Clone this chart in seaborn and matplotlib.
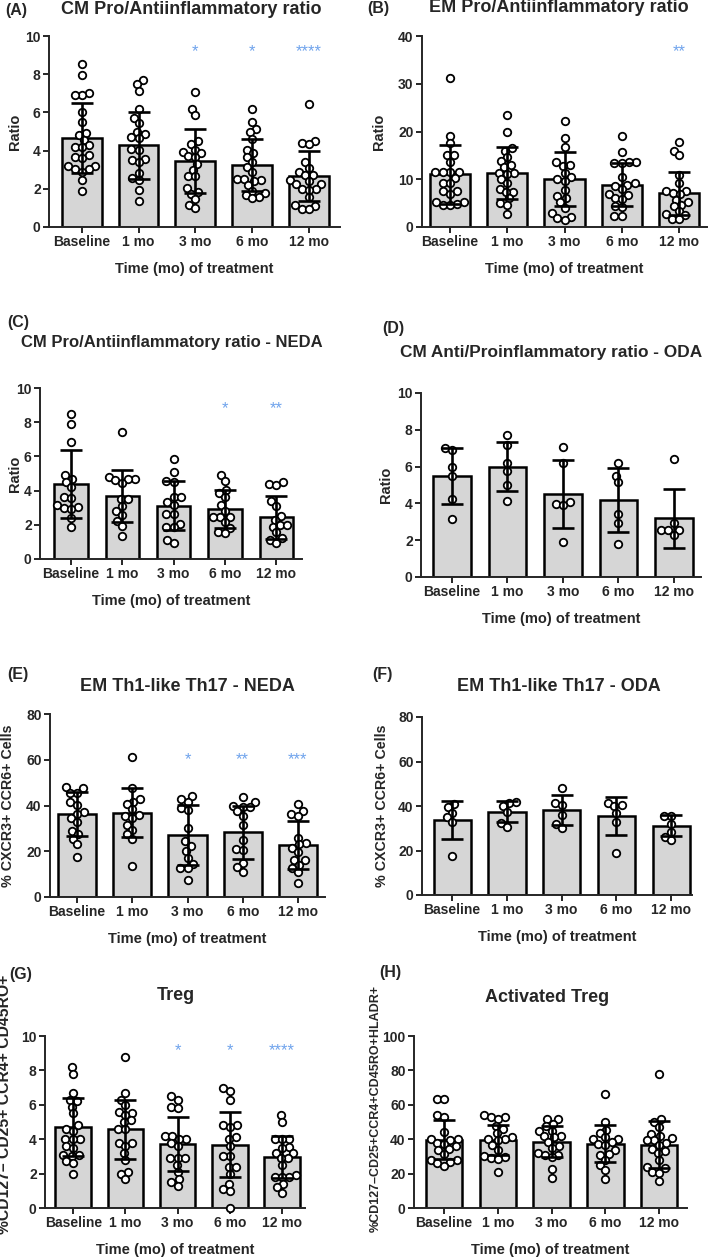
import warnings
import pandas as pd
import matplotlib
matplotlib.use("Agg")
import matplotlib.pyplot as plt
import seaborn as sns

warnings.filterwarnings("ignore")

W, H = 709, 1260
CATS = ["Baseline", "1 mo", "3 mo", "6 mo", "12 mo"]
XLAB = "Time (mo) of treatment"
BAR = "#d6d6d6"
STAR = "#6fa3ec"

# (A) CM Pro/Antiinflammatory ratio
a_points = [
    [8.55, 7.94, 7.03, 6.89, 6.89, 6.02, 5.5, 4.92, 4.8, 4.54, 4.28, 4.19, 4.19, 3.75, 3.66, 3.6, 3.18, 3.18, 3.05, 3.05, 2.9, 2.44, 1.88],
    [7.68, 7.47, 7.12, 6.18, 5.72, 5.45, 5.0, 4.85, 4.72, 4.65, 4.1, 4.05, 3.55, 3.5, 3.4, 2.85, 2.55, 2.45, 1.95, 1.35],
    [7.05, 6.18, 5.85, 4.5, 4.35, 4.05, 3.95, 3.85, 3.7, 3.65, 3.3, 3.0, 2.65, 2.65, 2.05, 1.85, 1.75, 1.45, 1.15, 0.98],
    [6.2, 5.5, 5.15, 4.95, 4.6, 4.05, 3.85, 3.65, 3.4, 3.15, 2.9, 2.5, 2.5, 2.45, 2.4, 2.2, 1.9, 1.8, 1.7, 1.55, 1.5],
    [6.42, 4.5, 4.4, 4.35, 3.4, 3.1, 2.9, 2.7, 2.7, 2.45, 2.4, 2.25, 2.25, 2.0, 2.0, 1.95, 1.55, 1.15, 1.1, 0.95, 0.95],
]
a_means = [4.68, 4.28, 3.46, 3.26, 2.67]
a_sd = [1.83, 1.76, 1.68, 1.35, 1.31]
a_stars = ["", "", "*", "*", "****"]

# (B) EM Pro/Antiinflammatory ratio
b_points = [
    [31.2, 19.0, 17.5, 15.0, 15.0, 13.7, 11.6, 11.6, 11.6, 11.6, 10.3, 9.3, 9.3, 7.6, 7.6, 7.0, 5.2, 5.2, 4.8, 4.6, 4.6],
    [23.4, 19.8, 16.6, 16.0, 14.6, 13.8, 13.0, 12.5, 11.4, 11.4, 11.2, 10.0, 9.2, 8.0, 7.3, 7.3, 6.0, 5.0, 4.6, 2.7],
    [22.3, 18.7, 16.8, 13.6, 12.9, 12.8, 11.4, 10.5, 10.1, 9.7, 7.8, 6.5, 6.0, 5.2, 4.0, 2.9, 2.1, 1.9, 1.5],
    [19.0, 15.7, 13.7, 13.7, 13.4, 13.3, 10.5, 9.2, 8.9, 8.5, 8.0, 7.0, 6.6, 6.0, 5.8, 4.5, 4.2, 2.2, 2.2],
    [17.9, 16.0, 15.0, 10.8, 9.2, 7.6, 7.6, 7.2, 6.9, 5.7, 5.2, 4.7, 4.3, 3.3, 2.7, 2.5, 1.7, 1.7],
]
b_means = [11.0, 11.3, 10.0, 8.9, 7.1]
b_sd = [6.2, 5.4, 5.7, 4.6, 4.5]
b_stars = ["", "", "", "", "**"]

# (C) CM Pro/Antiinflammatory ratio - NEDA
c_points = [
    [8.5, 7.9, 6.85, 4.9, 4.7, 4.5, 4.2, 3.65, 3.55, 3.15, 3.05, 3.0, 2.9, 2.4, 1.9],
    [7.45, 4.8, 4.7, 4.7, 4.6, 4.45, 3.5, 3.5, 3.1, 2.8, 2.55, 2.25, 1.95, 1.35],
    [5.85, 5.1, 4.55, 4.5, 3.65, 3.65, 3.35, 3.15, 2.65, 2.65, 2.05, 1.9, 1.85, 1.1, 0.95],
    [4.9, 4.55, 4.05, 3.85, 3.65, 3.15, 2.8, 2.45, 2.45, 2.45, 2.15, 1.8, 1.55, 1.5],
    [4.5, 4.4, 4.35, 3.4, 3.1, 2.5, 2.3, 2.0, 2.0, 1.9, 1.55, 1.2, 1.1, 0.95],
]
c_means = [4.39, 3.69, 3.12, 2.91, 2.44]
c_sd = [1.97, 1.5, 1.44, 1.1, 1.25]
c_stars = ["", "", "", "*", "**"]

# (D) CM Anti/Proinflammatory ratio - ODA
d_points = [
    [7.0, 6.9, 6.0, 5.5, 4.25, 3.15],
    [7.7, 7.15, 6.2, 5.75, 5.0, 4.15],
    [7.05, 6.2, 4.05, 3.95, 3.9, 1.9],
    [6.2, 5.5, 5.15, 3.4, 2.95, 1.8],
    [6.4, 2.95, 2.55, 2.55, 2.55, 2.3],
]
d_means = [5.49, 6.0, 4.51, 4.18, 3.18]
d_sd = [1.52, 1.35, 1.86, 1.73, 1.6]
d_stars = ["", "", "", "", ""]

# (E) EM Th1-like Th17 - NEDA
e_points = [
    [48.0, 47.5, 45.5, 45.5, 41.5, 40.2, 37.0, 36.5, 34.5, 33.0, 29.0, 27.5, 25.5, 23.0, 17.5],
    [61.0, 47.5, 43.0, 41.5, 40.5, 38.5, 36.0, 35.5, 34.5, 31.5, 29.5, 27.5, 25.5, 13.5],
    [44.0, 43.0, 41.5, 39.0, 38.0, 30.0, 24.5, 22.5, 20.0, 17.0, 14.5, 12.5, 12.5, 7.5],
    [43.5, 41.5, 40.0, 39.5, 39.5, 37.5, 35.5, 31.5, 25.0, 21.0, 20.5, 15.0, 13.0, 11.0],
    [40.5, 37.5, 36.5, 35.5, 26.0, 23.5, 23.0, 21.5, 19.5, 16.0, 16.0, 14.0, 12.5, 11.0, 6.0],
]
e_means = [36.4, 36.9, 27.2, 28.2, 22.8]
e_sd = [9.6, 10.8, 13.2, 11.6, 10.4]
e_stars = ["", "", "*", "**", "***"]

# (F) EM Th1-like Th17 - ODA
f_points = [
    [41.0, 39.5, 37.0, 35.0, 33.0, 17.5],
    [42.0, 41.5, 40.0, 37.5, 32.5, 30.5],
    [48.0, 41.5, 40.5, 36.0, 32.0, 30.0],
    [41.5, 40.5, 40.0, 37.0, 33.0, 19.0],
    [35.5, 35.5, 32.0, 28.5, 26.0, 24.5],
]
f_means = [33.6, 37.4, 38.0, 35.3, 31.1]
f_sd = [8.6, 4.8, 6.75, 8.55, 4.7]
f_stars = ["", "", "", "", ""]

# (G) Treg
g_points = [
    [8.2, 7.8, 6.7, 6.3, 6.2, 5.9, 5.5, 4.8, 4.6, 4.5, 4.0, 4.0, 4.0, 3.6, 3.5, 3.1, 3.1, 3.0, 2.75, 2.6, 2.0],
    [8.8, 6.7, 6.3, 6.0, 5.6, 5.5, 5.4, 5.1, 5.0, 4.6, 4.6, 3.8, 3.8, 3.6, 3.2, 2.8, 2.1, 2.0, 1.7],
    [6.5, 6.3, 5.9, 5.8, 4.2, 4.2, 4.0, 4.0, 3.8, 3.6, 2.9, 2.9, 2.9, 2.5, 2.1, 1.7, 1.5, 1.3],
    [7.0, 6.8, 6.3, 4.85, 4.8, 4.7, 4.1, 4.0, 3.6, 3.0, 3.0, 2.4, 2.4, 2.0, 1.4, 1.1, 1.0, 0.0],
    [5.4, 5.0, 4.0, 4.0, 4.0, 3.55, 3.5, 3.2, 3.2, 2.9, 2.9, 2.5, 1.9, 1.8, 1.8, 1.8, 1.4, 1.2, 0.9],
]
g_means = [4.7, 4.58, 3.73, 3.68, 2.96]
g_sd = [1.69, 1.71, 1.57, 1.9, 1.21]
g_stars = ["", "", "*", "*", "****"]

# (H) Activated Treg
h_points = [
    [63.5, 63.5, 54.0, 53.0, 44.0, 40.0, 40.0, 39.5, 38.0, 37.5, 36.0, 34.5, 33.5, 31.5, 28.0, 28.0, 27.0, 26.0, 24.5],
    [54.0, 53.0, 53.0, 52.0, 47.5, 46.0, 43.5, 41.0, 40.0, 40.0, 39.5, 36.5, 34.0, 30.0, 29.5, 29.0, 28.5, 21.0],
    [51.5, 51.5, 49.0, 47.5, 45.0, 45.0, 42.0, 42.0, 41.0, 38.5, 36.0, 35.0, 32.0, 31.0, 31.0, 29.5, 22.5, 17.5],
    [66.5, 50.0, 45.5, 43.5, 41.0, 40.0, 40.0, 38.5, 37.5, 36.5, 34.0, 31.5, 31.0, 28.0, 25.0, 22.0, 17.0],
    [78.0, 51.5, 50.0, 47.0, 43.0, 42.0, 40.5, 39.5, 39.5, 38.0, 36.5, 34.5, 33.0, 32.0, 28.0, 24.0, 23.0, 21.0, 20.5, 15.5],
]
h_means = [39.7, 39.7, 38.5, 37.3, 36.8]
h_sd = [11.4, 8.8, 9.1, 10.7, 13.5]
h_stars = ["", "", "", "", ""]

sns.set_style("ticks")
plt.rcParams["font.family"] = ["Liberation Sans", "DejaVu Sans"]
plt.rcParams["font.weight"] = "bold"
plt.rcParams["axes.labelweight"] = "bold"

# layout in pixels: box = (left, top, right, bottom)
panels = [
    dict(tag="(A)", tag_xy=(5, 10), title="CM Pro/Antiinflammatory ratio", title_xy=(191, 9), tsize=13,
         box=(49, 36, 340, 227), xlim=(-0.58, 4.55), bw=0.7, top=10, step=2, ylabel="Ratio", ylab_x=15, ysize=10.5,
         pts=a_points, means=a_means, sd=a_sd, stars=a_stars, star_y=9.2),
    dict(tag="(B)", tag_xy=(367, 9), title="EM Pro/Antiinflammatory ratio", title_xy=(559, 8), tsize=13,
         box=(422, 36, 707, 227), xlim=(-0.49, 4.49), bw=0.7, top=40, step=10, ylabel="Ratio", ylab_x=379, ysize=10.5,
         pts=b_points, means=b_means, sd=b_sd, stars=b_stars, star_y=36.8),
    dict(tag="(C)", tag_xy=(7, 323), title="CM Pro/Antiinflammatory ratio - NEDA", title_xy=(172, 343), tsize=12,
         box=(40, 388, 302, 559), xlim=(-0.6, 4.5), bw=0.65, top=10, step=2, ylabel="Ratio", ylab_x=15, ysize=10.5,
         pts=c_points, means=c_means, sd=c_sd, stars=c_stars, star_y=8.8),
    dict(tag="(D)", tag_xy=(382, 328), title="CM Anti/Proinflammatory ratio - ODA", title_xy=(551, 353), tsize=12.4,
         box=(421, 393, 701, 577), xlim=(-0.56, 4.49), bw=0.68, top=10, step=2, ylabel="Ratio", ylab_x=386, ysize=10.5,
         pts=d_points, means=d_means, sd=d_sd, stars=d_stars, star_y=9.2),
    dict(tag="(E)", tag_xy=(7, 675), title="EM Th1-like Th17 - NEDA", title_xy=(187, 687), tsize=13,
         box=(50, 714, 325, 897), xlim=(-0.49, 4.49), bw=0.69, top=80, step=20, ylabel="% CXCR3+ CCR6+ Cells",
         ylab_x=8, ysize=10.3, pts=e_points, means=e_means, sd=e_sd, stars=e_stars, star_y=60.2),
    dict(tag="(F)", tag_xy=(372, 675), title="EM Th1-like Th17 - ODA", title_xy=(559, 687), tsize=13,
         box=(422, 717, 692, 895), xlim=(-0.55, 4.38), bw=0.68, top=80, step=20, ylabel="% CXCR3+ CCR6+ Cells",
         ylab_x=382, ysize=10.3, pts=f_points, means=f_means, sd=f_sd, stars=f_stars, star_y=60),
    dict(tag="(G)", tag_xy=(9, 975), title="Treg", title_xy=(176, 995), tsize=13,
         box=(45, 1036, 305, 1208), xlim=(-0.54, 4.44), bw=0.68, top=10, step=2, ylabel="%CD127\u2013 CD25+ CCR4+ CD45RO+",
         ylab_x=5, ysize=11.3, ylab_y=1104, pts=g_points, means=g_means, sd=g_sd, stars=g_stars, star_y=9.15),
    dict(tag="(H)", tag_xy=(379, 973), title="Activated Treg", title_xy=(547, 997), tsize=13,
         box=(414, 1036, 687, 1208), xlim=(-0.56, 4.52), bw=0.68, top=100, step=20, ylabel="%CD127\u2013CD25+CCR4+CD45RO+HLADR+",
         ylab_x=376, ysize=9.0, ylab_y=1108, pts=h_points, means=h_means, sd=h_sd, stars=h_stars, star_y=92),
]

fig = plt.figure(figsize=(W / 100, H / 100), dpi=100)
swarms = []


def draw_panel(p):
    l, t, r, b = p["box"]
    ax = fig.add_axes([l / W, 1 - b / H, (r - l) / W, (b - t) / H])

    rows = []
    for cat, vals in zip(CATS, p["pts"]):
        for v in vals:
            rows.append({"time": cat, "value": v})
    df = pd.DataFrame(rows)

    sns.barplot(x=CATS, y=p["means"], order=CATS, color=BAR, saturation=1, edgecolor="black",
                linewidth=1.8, width=p["bw"], errorbar=None, ax=ax, zorder=1)
    n_before = len(ax.collections)
    sns.swarmplot(data=df, x="time", y="value", order=CATS, size=3.7, color="white",
                  edgecolor="black", linewidth=1.3, ax=ax, zorder=3, clip_on=False)
    swarms.extend(ax.collections[n_before:])
    ax.errorbar(range(len(CATS)), p["means"], yerr=p["sd"], fmt="none", ecolor="black",
                elinewidth=1.9, capsize=8, capthick=1.9, zorder=4)

    for i, s in enumerate(p["stars"]):
        if s:
            ax.text(i, p["star_y"], s, ha="center", va="center", color=STAR,
                    fontsize=12, fontweight="normal")

    ax.set_xlim(p["xlim"])
    ax.set_ylim(0, p["top"])
    ax.set_yticks(range(0, p["top"] + 1, p["step"]))
    sns.despine(ax=ax)
    for sp in ("left", "bottom"):
        ax.spines[sp].set_linewidth(1.4)
    ax.tick_params(length=4, width=1.4, labelsize=10, pad=2)
    ax.set_xlabel(XLAB, fontsize=10.5, labelpad=9)
    ax.set_ylabel(p["ylabel"], fontsize=p["ysize"], va="center")
    ylab_y = p.get("ylab_y", (t + b) / 2)
    ax.yaxis.set_label_coords((p["ylab_x"] - l) / (r - l), (b - ylab_y) / (b - t))

    tx, ty = p["title_xy"]
    fig.text(tx / W, 1 - ty / H, p["title"], ha="center", va="center",
             fontsize=p["tsize"], fontweight="bold")
    gx, gy = p["tag_xy"]
    fig.text(gx / W, 1 - gy / H, p["tag"], ha="left", va="center", fontsize=11.5, fontweight="bold")


for p in panels:
    draw_panel(p)

# lay the swarms out with small markers (tight packing like the original),
# then freeze those positions and draw the circles at full size
fig.canvas.draw()
for coll in swarms:
    if "draw" in vars(coll):
        del coll.draw
    coll.set_sizes([5.4 ** 2])

fig.savefig("out.png", dpi=100)
